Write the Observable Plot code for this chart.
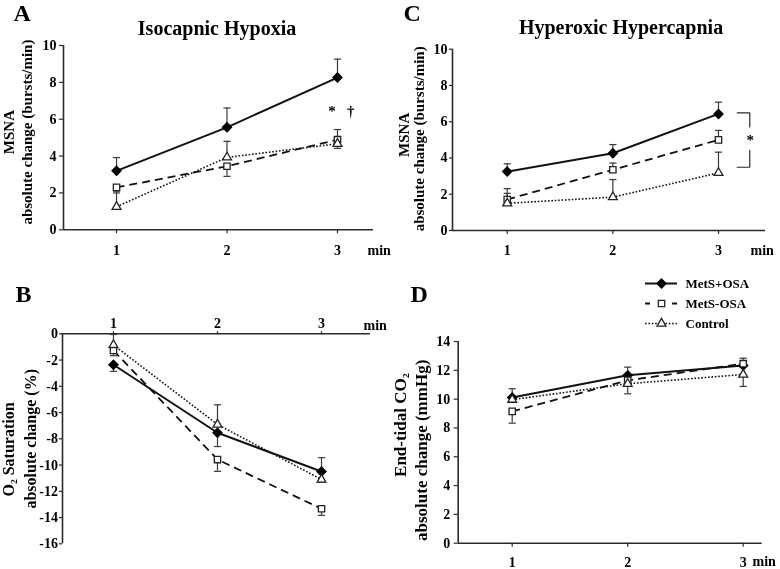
<!DOCTYPE html>
<html>
<head>
<meta charset="utf-8">
<script src="https://cdn.jsdelivr.net/npm/d3@7"></script>
<script src="https://cdn.jsdelivr.net/npm/@observablehq/plot@0.6"></script>
<style>
  html, body { margin: 0; padding: 0; background: #fff; }
  #wrap { position: relative; width: 780px; height: 569px; overflow: hidden; background: #fff;
          font-family: "Liberation Serif", "Times New Roman", Times, serif; }
  #wrap svg { position: absolute; filter: grayscale(1); }
  #wrap svg text { font-family: "Liberation Serif", "Times New Roman", Times, serif; font-weight: bold; }
  #wrap svg g[aria-label$="tick label"] { font-size: 14px; font-weight: bold; }
</style>
</head>
<body>
<div id="wrap"></div>
<script>
// ---------- data ----------
const minutes = [1, 2, 3];
const groups = ["MetS+OSA", "MetS-OSA", "Control"];

// A: Isocapnic Hypoxia – MSNA absolute change (bursts/min); rows follow `groups`
const hypoxiaMSNA    = [[3.2, 5.56, 8.26], [2.3, 3.45, 4.89], [1.25, 3.93, 4.67]];
const hypoxiaMSNAErr = [[0.72, 1.05, 1.0], [-0.3, -0.55, 0.55], [0.85, 0.87, -0.25]];

// C: Hyperoxic Hypercapnia – MSNA absolute change (bursts/min)
const hypercapMSNA    = [[3.25, 4.26, 6.43], [1.71, 3.35, 5.0], [1.5, 1.84, 3.18]];
const hypercapMSNAErr = [[0.43, 0.48, 0.65], [0.6, 0.37, 0.52], [0.55, 0.97, 1.14]];

// B: O2 saturation absolute change (%)
const o2Sat    = [[-2.36, -7.54, -10.49], [-1.27, -9.58, -13.33], [-0.85, -6.91, -11.1]];
const o2SatErr = [[-0.5, -1.05, 1.05], [-0.4, -0.9, -0.5], [0.8, 1.5, -0.2]];

// D: End-tidal CO2 absolute change (mmHg)
const etCO2    = [[10.12, 11.65, 12.34], [9.15, 11.3, 12.46], [9.96, 11.07, 11.71]];
const etCO2Err = [[0.6, 0.57, 0.5], [-0.82, 0, 0], [0, -0.7, -0.83]];

// tick values
const msnaTicks = [0, 2, 4, 6, 8, 10];
const o2Ticks = [0, -2, -4, -6, -8, -10, -12, -14, -16];
const co2Ticks = [0, 2, 4, 6, 8, 10, 12, 14];

// annotations
const hypoxiaMarks = [{min: 2.95, v: 6.2, label: "*"}, {min: 3.12, v: 6.2, label: "†"}];
const hypercapBracket = [
  {part: "top", min: 3.177, v: 6.49}, {part: "top", min: 3.296, v: 6.49}, {part: "top", min: 3.296, v: 5.71},
  {part: "bottom", min: 3.296, v: 4.42}, {part: "bottom", min: 3.296, v: 3.49}, {part: "bottom", min: 3.177, v: 3.49}
];
const hypercapStar = [{min: 3.30, v: 4.69, label: "*"}];

// ---------- styles ----------
const AXIS = "#2a2a2a";
const ERR = "#3a3a3a";
const FONT = '"Liberation Serif", "Times New Roman", Times, serif';
const capSymbol = { draw(ctx, size) { const w = Math.sqrt(size / Math.PI); ctx.moveTo(-w, 0); ctx.lineTo(w, 0); } };
const groupStyle = {
  "MetS+OSA": {dash: null, width: 2, symbol: "diamond2", fill: "#000", stroke: "#000", r: 4.1},
  "MetS-OSA": {dash: "8,5", width: 1.8, symbol: "square", fill: "#fff", stroke: "#222", r: 3.6},
  "Control":  {dash: "1.6,1.8", width: 1.6, symbol: "triangle", fill: "#fff", stroke: "#222", r: 3.3}
};
const txt = (o) => ({fontFamily: FONT, fontWeight: "bold", fill: "#000", ...o});

function panel(cfg) {
  const rows = groups.flatMap((g, i) => minutes.map((m, j) => ({group: g, min: m, v: cfg.means[i][j], e: cfg.errs[i][j]})));
  const bars = rows.filter(d => d.e !== 0);
  const marks = [
    Plot.ruleX([cfg.xDomain[0]], {stroke: AXIS, strokeWidth: 1.6}),
    Plot.ruleY([0], {stroke: AXIS, strokeWidth: 1.6}),
    Plot.axisY(cfg.yTicks, txt({tickFormat: d => String(d), tickSize: cfg.yTickSize, tickPadding: cfg.yTickPad,
      stroke: AXIS, strokeWidth: 1.2, label: null, fontSize: 14})),
    Plot.axisX(minutes, txt({anchor: cfg.xAnchor, tickFormat: d => String(d), tickSize: cfg.xTickSize, tickPadding: cfg.xTickPad,
      stroke: AXIS, strokeWidth: 1.2, label: null, fontSize: 14})),
    Plot.ruleX(bars, {x: "min", y1: "v", y2: d => d.v + d.e, stroke: ERR, strokeWidth: 1.2}),
    Plot.dot(bars, {x: "min", y: d => d.v + d.e, symbol: capSymbol, r: 3.6, stroke: ERR, strokeWidth: 1.2, fill: "none"})
  ];
  for (const g of groups) {
    const s = groupStyle[g];
    marks.push(Plot.line(rows.filter(d => d.group === g), {x: "min", y: "v", stroke: "#111", strokeWidth: s.width,
      strokeDasharray: s.dash, strokeLinecap: "butt", strokeLinejoin: "miter"}));
  }
  for (const g of groups) {
    const s = groupStyle[g];
    marks.push(Plot.dot(rows.filter(d => d.group === g), {x: "min", y: "v", symbol: s.symbol, r: s.r,
      fill: s.fill, stroke: s.stroke, strokeWidth: 1.3}));
  }
  marks.push(Plot.text([cfg.letter], txt({text: d => d, frameAnchor: "top-left", textAnchor: "start", lineAnchor: "bottom",
    dx: cfg.letterDx, dy: cfg.letterDy, fontSize: 24})));
  if (cfg.title) marks.push(Plot.text([cfg.title], txt({text: d => d, frameAnchor: "top", textAnchor: "middle", lineAnchor: "bottom",
    dx: cfg.titleDx, dy: cfg.titleDy, fontSize: 20})));
  cfg.yLabels.forEach(l => marks.push(Plot.text([l.text], txt({text: d => d, frameAnchor: "left", rotate: -90,
    textAnchor: "middle", lineAnchor: "bottom", dx: l.dx, dy: l.dy, fontSize: cfg.yLabelSize}))));
  marks.push(Plot.text(["min"], txt({text: d => d, frameAnchor: cfg.minAnchor, textAnchor: "start", lineAnchor: "middle",
    dx: cfg.minDx, dy: cfg.minDy, fontSize: 14})));
  if (cfg.extra) marks.push(...cfg.extra);

  const svg = Plot.plot({
    width: cfg.width, height: cfg.height,
    marginLeft: cfg.ml, marginRight: cfg.mr, marginTop: cfg.mt, marginBottom: cfg.mb,
    x: {domain: cfg.xDomain},
    y: {domain: cfg.yDomain},
    style: {fontFamily: FONT, fontSize: "13px", fontWeight: "bold", background: "transparent", overflow: "visible", color: "#000"},
    marks
  });
  svg.style.left = cfg.left + "px";
  svg.style.top = cfg.top + "px";
  return svg;
}

const wrap = document.getElementById("wrap");

// Panel A
wrap.appendChild(panel({
  left: 0, top: 0, width: 390, height: 270, ml: 63, mr: 17, mt: 45, mb: 40.7,
  xDomain: [0.52, 3.326], yDomain: [0, 10], yTicks: msnaTicks,
  means: hypoxiaMSNA, errs: hypoxiaMSNAErr,
  yTickSize: 4, yTickPad: 3, xAnchor: "bottom", xTickSize: 4, xTickPad: 11.5,
  letter: "A", letterDx: -50, letterDy: -24.5,
  title: "Isocapnic Hypoxia", titleDx: -1.5, titleDy: -11,
  yLabelSize: 15, yLabels: [{text: "MSNA", dx: -50, dy: -5.6}, {text: "absolute change (bursts/min)", dx: -31.5, dy: -5.6}],
  minAnchor: "bottom-right", minDx: -6, minDy: 21,
  extra: [Plot.text(hypoxiaMarks, txt({x: "min", y: "v", text: "label", textAnchor: "middle", lineAnchor: "bottom", fontSize: 15}))]
}));

// Panel C
wrap.appendChild(panel({
  left: 390, top: 0, width: 390, height: 270, ml: 62, mr: 15, mt: 48.7, mb: 40,
  xDomain: [0.482, 3.445], yDomain: [0, 10], yTicks: msnaTicks,
  means: hypercapMSNA, errs: hypercapMSNAErr,
  yTickSize: 3, yTickPad: 2, xAnchor: "bottom", xTickSize: 4, xTickPad: 11,
  letter: "C", letterDx: -49, letterDy: -28.5,
  title: "Hyperoxic Hypercapnia", titleDx: 12, titleDy: -15.7,
  yLabelSize: 15, yLabels: [{text: "MSNA", dx: -44, dy: -5}, {text: "absolute change (bursts/min)", dx: -28.5, dy: -1}],
  minAnchor: "bottom-right", minDx: -15, minDy: 20,
  extra: [
    Plot.line(hypercapBracket, {x: "min", y: "v", z: "part", stroke: AXIS, strokeWidth: 1.2, strokeLinejoin: "miter"}),
    Plot.text(hypercapStar, txt({x: "min", y: "v", text: "label", textAnchor: "middle", lineAnchor: "bottom", fontSize: 15}))
  ]
}));

// Panel B
wrap.appendChild(panel({
  left: 0, top: 270, width: 390, height: 299, ml: 62, mr: 20, mt: 63.3, mb: 25.7,
  xDomain: [0.51, 3.471], yDomain: [-16, 0], yTicks: o2Ticks,
  means: o2Sat, errs: o2SatErr,
  yTickSize: 3, yTickPad: 1.5, xAnchor: "top", xTickSize: 3, xTickPad: 3,
  letter: "B", letterDx: -47, letterDy: -31.6,
  title: null,
  yLabelSize: 16, yLabels: [{text: "O₂ Saturation", dx: -48.5, dy: 10.7}, {text: "absolute change (%)", dx: -26.2, dy: 0}],
  minAnchor: "top-right", minDx: -7, minDy: -8
}));

// Panel D
wrap.appendChild(panel({
  left: 390, top: 270, width: 390, height: 299, ml: 67.7, mr: 18.3, mt: 71, mb: 26.3,
  xDomain: [0.5325, 3.1645], yDomain: [0, 14], yTicks: co2Ticks,
  means: etCO2, errs: etCO2Err,
  yTickSize: 4, yTickPad: 4, xAnchor: "bottom", xTickSize: 4, xTickPad: 9.5,
  letter: "D", letterDx: -47.7, letterDy: -39.3,
  title: null,
  yLabelSize: 17, yLabels: [{text: "End-tidal CO₂", dx: -51.7, dy: -17.3}, {text: "absolute change (mmHg)", dx: -31.2, dy: 8}],
  minAnchor: "bottom-right", minDx: -9.7, minDy: 18.5
}));

// Legend
const legendDash = {"MetS+OSA": null, "MetS-OSA": "5,22", "Control": "1.6,1.8"};
const legend = Plot.plot({
  width: 140, height: 65, marginLeft: 0, marginRight: 0, marginTop: 0, marginBottom: 0,
  x: {domain: [0, 1], range: [5, 37], axis: null},
  y: {type: "point", domain: groups, range: [12.7, 53], padding: 0, axis: null},
  style: {fontFamily: FONT, fontSize: "13px", fontWeight: "bold", background: "transparent", overflow: "visible", color: "#000"},
  marks: [
    ...groups.map(g => Plot.ruleY([g], {y: d => d, x1: 0, x2: 1, stroke: "#111", strokeWidth: groupStyle[g].width,
      strokeDasharray: legendDash[g], strokeLinecap: "butt"})),
    ...groups.map(g => Plot.dot([g], {y: d => d, x: 0.5, symbol: groupStyle[g].symbol, r: groupStyle[g].r,
      fill: groupStyle[g].fill, stroke: groupStyle[g].stroke, strokeWidth: 1.3})),
    Plot.text(groups, txt({y: d => d, x: 1, dx: 8, text: d => d, textAnchor: "start", lineAnchor: "middle", fontSize: 13}))
  ]
});
legend.style.left = "640px";
legend.style.top = "270px";
wrap.appendChild(legend);
</script>
</body>
</html>
